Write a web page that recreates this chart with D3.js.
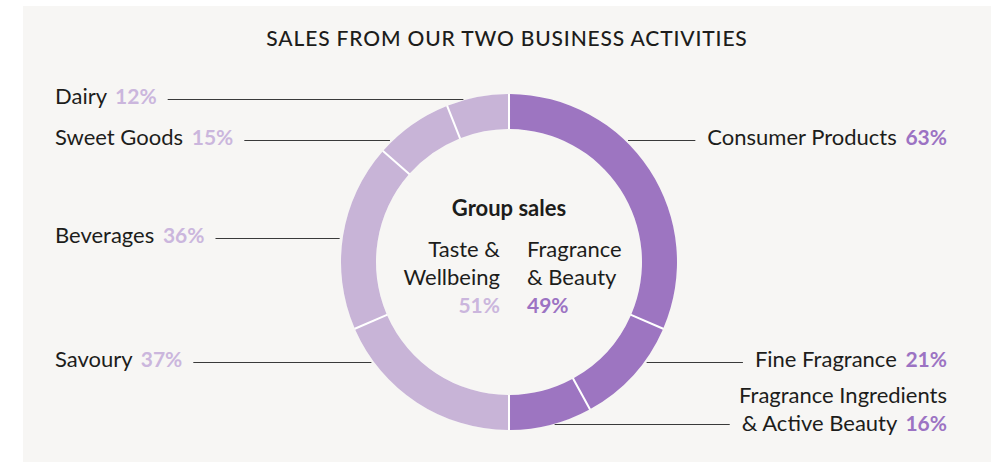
<!DOCTYPE html>
<html>
<head>
<meta charset="utf-8">
<script src="https://cdn.jsdelivr.net/npm/d3@7"></script>
<style>
  body { margin: 0; background: #fff; }
  text { font-family: Lato, "Noto Sans", sans-serif; fill: #1d1d1b; }
</style>
</head>
<body>
<script>
// data
var title = "SALES FROM OUR TWO BUSINESS ACTIVITIES";
var groupNames = [["Taste &", "Wellbeing"], ["Fragrance", "& Beauty"]];
var groupShares = [51, 49];
var rightCats = ["Consumer Products", "Fine Fragrance", "Fragrance Ingredients & Active Beauty"];
var rightShares = [63, 21, 16];
var leftCats = ["Savoury", "Beverages", "Sweet Goods", "Dairy"];
var leftShares = [37, 36, 15, 12];

// layout: y of the leader line for every label
var rightLineY = [140.5, 362.5, 424.5];
var leftLineY = [362.5, 238.5, 140.5, 99.5];

var darkPurple = "#9d75c1", lightPurple = "#c8b4d7";
var darkPct = "#9c73c3", lightPct = "#cbb6dd";

var width = 996, height = 462;
var cx = 509, cy = 262, outerR = 168, innerR = 133;

var svg = d3.select("body").append("svg")
    .attr("width", width)
    .attr("height", height);

svg.append("rect")
    .attr("x", 23).attr("y", 6)
    .attr("width", 968).attr("height", 460)
    .attr("fill", "#f7f6f4");

svg.append("text")
    .attr("x", 507).attr("y", 46)
    .attr("text-anchor", "middle")
    .style("font-size", "21px")
    .style("font-weight", "500")
    .style("letter-spacing", "0.85px")
    .text(title);

var g = svg.append("g").attr("transform", "translate(" + cx + "," + cy + ")");

var arc = d3.arc().innerRadius(innerR).outerRadius(outerR)
    .padAngle(0.0135).padRadius(150);

// white ring behind so the gaps show white
g.append("path")
    .attr("d", d3.arc().innerRadius(innerR).outerRadius(outerR)({startAngle: 0, endAngle: 2 * Math.PI}))
    .attr("fill", "#fff");

var rightPie = d3.pie().sort(null).startAngle(0).endAngle(Math.PI);
var leftPie = d3.pie().sort(null).startAngle(Math.PI).endAngle(2 * Math.PI);

g.selectAll("path.right")
    .data(rightPie(rightShares))
    .enter().append("path")
    .attr("class", "right")
    .attr("d", arc)
    .attr("fill", darkPurple);

g.selectAll("path.left")
    .data(leftPie(leftShares))
    .enter().append("path")
    .attr("class", "left")
    .attr("d", arc)
    .attr("fill", lightPurple);

// centre text
svg.append("text")
    .attr("x", cx).attr("y", 216)
    .attr("text-anchor", "middle")
    .style("font-size", "22px")
    .style("font-weight", "700")
    .text("Group sales");

var colX = [500, 527];
var colAnchor = ["end", "start"];
var pctColor = [lightPct, darkPct];
groupNames.forEach(function(lines, i) {
    lines.forEach(function(l, j) {
        svg.append("text")
            .attr("x", colX[i]).attr("y", 257 + j * 27.5)
            .attr("text-anchor", colAnchor[i])
            .style("font-size", "22px")
            .text(l);
    });
    svg.append("text")
        .attr("x", colX[i]).attr("y", 313)
        .attr("text-anchor", colAnchor[i])
        .style("font-size", "21px")
        .style("font-weight", "700")
        .style("fill", pctColor[i])
        .text(groupShares[i] + "%");
});

function circleX(y, side) {
    var dy = y - cy;
    return cx + side * Math.sqrt(outerR * outerR - dy * dy);
}

function label(x, y, anchor, name, pct, color) {
    var t = svg.append("text")
        .attr("x", x).attr("y", y)
        .attr("text-anchor", anchor)
        .style("font-size", "22px");
    t.append("tspan").text(name + " ");
    t.append("tspan")
        .attr("dx", 3)
        .style("font-weight", "700")
        .style("font-size", "21px")
        .style("fill", color)
        .text(pct + "%");
    return t.node().getBBox();
}

// left labels
leftCats.forEach(function(c, i) {
    var y = leftLineY[i];
    var bb = label(55, y + 4.5, "start", c, leftShares[i], lightPct);
    svg.append("line")
        .attr("x1", bb.x + bb.width + 11).attr("x2", circleX(y, -1) - 3)
        .attr("y1", y).attr("y2", y)
        .attr("stroke", "#3a3a3a").attr("stroke-width", 1.2);
});

// right labels
rightCats.forEach(function(c, i) {
    var y = rightLineY[i];
    var bb;
    if (c === "Fragrance Ingredients & Active Beauty") {
        svg.append("text")
            .attr("x", 947).attr("y", y - 22)
            .attr("text-anchor", "end")
            .style("font-size", "22px")
            .text("Fragrance Ingredients");
        bb = label(947, y + 6, "end", "& Active Beauty", rightShares[i], darkPct);
    } else {
        bb = label(947, y + 4.5, "end", c, rightShares[i], darkPct);
    }
    svg.append("line")
        .attr("x1", circleX(y, 1) + 3).attr("x2", bb.x - 12)
        .attr("y1", y).attr("y2", y)
        .attr("stroke", "#3a3a3a").attr("stroke-width", 1.2);
});
</script>
</body>
</html>
